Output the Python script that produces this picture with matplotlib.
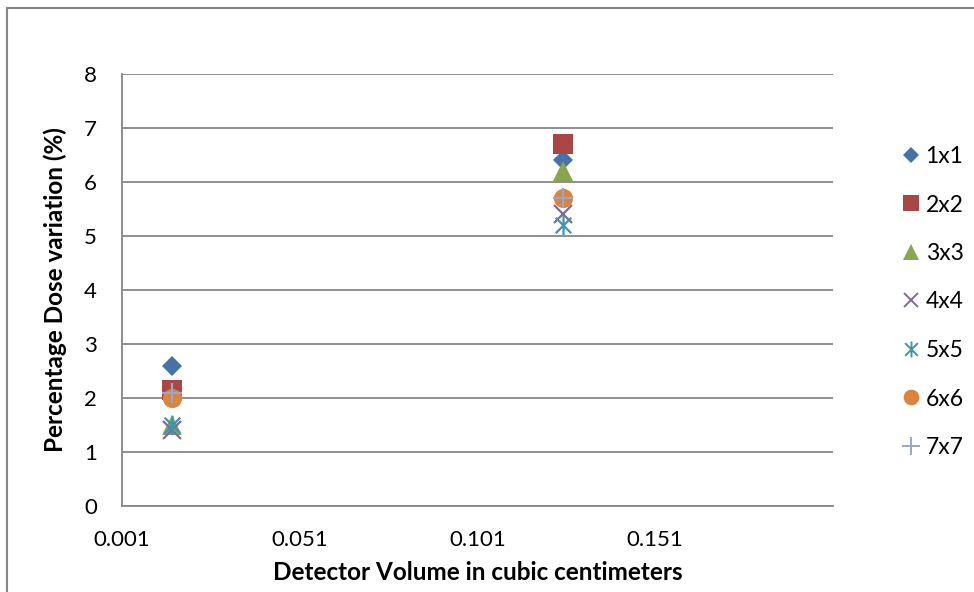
import numpy as np
import matplotlib
matplotlib.use("Agg")
import matplotlib.pyplot as plt
from matplotlib.path import Path
from matplotlib.lines import Line2D
from matplotlib.patches import Rectangle

plt.rcParams['font.family'] = ['Lato', 'DejaVu Sans']

# Detector volumes (cc) and dose variation for each field size
volumes = [0.015, 0.125]
field_sizes = ["1x1", "2x2", "3x3", "4x4", "5x5", "6x6", "7x7"]
dose_1x1 = [2.6, 6.4]
dose_2x2 = [2.15, 6.7]
dose_3x3 = [1.5, 6.2]
dose_4x4 = [1.4, 5.4]
dose_5x5 = [1.5, 5.2]
dose_6x6 = [2.0, 5.7]
dose_7x7 = [2.1, 5.7]
x_ticks = [0.001, 0.051, 0.101, 0.151]
y_ticks = [0, 1, 2, 3, 4, 5, 6, 7, 8]

# asterisk marker: vertical bar plus two diagonals
star = Path([(0, -1), (0, 1), (-0.8, -0.8), (0.8, 0.8), (-0.8, 0.8), (0.8, -0.8)],
            [Path.MOVETO, Path.LINETO, Path.MOVETO, Path.LINETO, Path.MOVETO, Path.LINETO])

series = [
    (dose_1x1, "D", "#4572A7", 10.2, True),
    (dose_2x2, "s", "#AA4643", 14.4, True),
    (dose_3x3, "^", "#89A54E", 14.4, True),
    (dose_4x4, "x", "#80699B", 13.0, False),
    (dose_5x5, star, "#3D96AE", 14.0, False),
    (dose_6x6, "o", "#DB843D", 13.8, True),
    (dose_7x7, "+", "#92A8CD", 15.0, False),
]

grey = "#868686"

fig = plt.figure(figsize=(9.74, 5.92), dpi=100)
ax = fig.add_axes([122 / 974, 86 / 592, 710.7 / 974, 432 / 592])

handles = []
for (vals, mk, col, ms, filled), name in zip(series, field_sizes):
    if filled:
        ax.plot(volumes, vals, linestyle="none", marker=mk, markersize=ms,
                color=col, markeredgewidth=0, clip_on=False)
        h = Line2D([], [], linestyle="none", marker=mk, markersize=ms * 0.82,
                   color=col, markeredgewidth=0)
    else:
        ax.plot(volumes, vals, linestyle="none", marker=mk, markersize=ms,
                color=col, markeredgewidth=1.6, clip_on=False)
        h = Line2D([], [], linestyle="none", marker=mk, markersize=ms * 0.82,
                   color=col, markeredgewidth=1.4)
    handles.append(h)

ax.set_xlim(0.001, 0.201)
ax.set_ylim(0, 8)
ax.set_xticks(x_ticks)
ax.set_xticklabels([f"{t:.3f}" for t in x_ticks])
ax.set_yticks(y_ticks)
ax.tick_params(length=0, labelsize=16, colors="black")
ax.tick_params(axis="y", pad=18)
ax.tick_params(axis="x", pad=17)

ax.grid(axis="y", color=grey, linewidth=1.3)
ax.set_axisbelow(True)
for side in ["top", "right"]:
    ax.spines[side].set_visible(False)
for side in ["left", "bottom"]:
    ax.spines[side].set_color(grey)
    ax.spines[side].set_linewidth(1.3)

ax.set_xlabel("Detector Volume in cubic centimeters", fontsize=17.5,
              fontweight="bold", labelpad=8)
ax.set_ylabel("Percentage Dose variation (%)", fontsize=17.5,
              fontweight="bold", labelpad=12)

fig.legend(handles, field_sizes, loc="center left",
           bbox_to_anchor=(890 / 974, 1 - 302 / 592), frameon=False,
           fontsize=16.5, handlelength=1.0, handletextpad=0.15,
           labelspacing=1.2, borderaxespad=0)

# chart frame (only top and left edges fall inside the image)
fig.patches.append(Rectangle((7 / 974, -0.1), 1.2, 1 - 8 / 592 + 0.1,
                             transform=fig.transFigure, fill=False,
                             edgecolor=grey, linewidth=1.5))

fig.savefig("out.png", dpi=100)
